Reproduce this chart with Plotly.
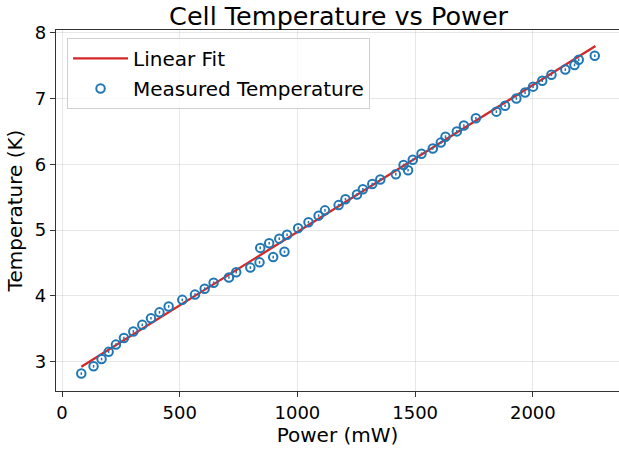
import plotly.graph_objects as go

power_mw = [82, 134, 168, 198, 229, 263, 303, 341, 378, 414, 453, 511, 565, 606, 644,
            709, 740, 800, 839, 842, 880, 897, 923, 945, 956, 1003, 1047, 1090, 1117,
            1175, 1204, 1253, 1278, 1318, 1352, 1418, 1451, 1470, 1490, 1527, 1575,
            1609, 1629, 1677, 1707, 1758, 1845, 1882, 1930, 1967, 2001, 2040, 2079,
            2138, 2177, 2195, 2263]
temp_k = [2.82, 2.93, 3.04, 3.15, 3.26, 3.36, 3.46, 3.56, 3.66, 3.75, 3.84, 3.94, 4.02,
          4.11, 4.20, 4.28, 4.36, 4.43, 4.51, 4.73, 4.80, 4.59, 4.87, 4.67, 4.93, 5.03,
          5.12, 5.22, 5.30, 5.38, 5.47, 5.54, 5.62, 5.70, 5.77, 5.85, 5.99, 5.91, 6.07,
          6.16, 6.24, 6.33, 6.42, 6.50, 6.59, 6.70, 6.80, 6.89, 7.00, 7.09, 7.18, 7.27,
          7.36, 7.44, 7.51, 7.59, 7.65]
temp_err = [0.02] * len(temp_k)

fit_power = [82, 2266]
fit_temp = [2.924, 7.798]

x_ticks = [0, 500, 1000, 1500, 2000]
y_ticks = [3, 4, 5, 6, 7, 8]

FONT = "DejaVu Sans"
BLUE = "#1f77b4"
RED = "#d62728"
SPINE = "#333333"

fig = go.Figure()
fig.add_trace(go.Scatter(
    x=fit_power, y=fit_temp, mode="lines", name="Linear Fit",
    line=dict(color=RED, width=2.3), legendgroup="a"))
fig.add_trace(go.Scatter(
    x=power_mw, y=temp_k, mode="markers", name="Measured Temperature",
    marker=dict(symbol="circle-open", size=8.5, color=BLUE, line=dict(width=2, color=BLUE)),
    error_y=dict(type="data", array=temp_err, color=BLUE, thickness=1.5, width=0),
    legendgroup="b"))

axis_common = dict(
    showgrid=True, gridcolor="rgba(176,176,176,0.3)", gridwidth=1,
    showline=True, linecolor=SPINE, linewidth=1.2,
    ticks="outside", ticklen=5, tickcolor=SPINE, tickwidth=1,
    tickfont=dict(family=FONT, size=18, color="black"),
    zeroline=False, automargin=False,
)

fig.update_layout(
    width=619, height=451,
    margin=dict(l=56, r=0, t=30, b=60),
    paper_bgcolor="white", plot_bgcolor="white",
    font=dict(family=FONT, color="black"),
    title=dict(text="Cell Temperature vs Power", x=0.547, xanchor="center",
               y=0.965, yanchor="middle", font=dict(family=FONT, size=25.5, color="black")),
    xaxis=dict(axis_common, range=[-25.5, 2366], tickvals=x_ticks, mirror=True,
               title=dict(text="Power (mW)", font=dict(family=FONT, size=20), standoff=2)),
    yaxis=dict(axis_common, range=[2.555, 8.041], tickvals=y_ticks, mirror=False,
               title=dict(text="Temperature (K)", font=dict(family=FONT, size=20), standoff=6)),
    legend=dict(x=0.0196, y=0.978, xanchor="left", yanchor="top",
                bgcolor="rgba(255,255,255,0.8)", bordercolor="#d0d0d0", borderwidth=1,
                font=dict(family=FONT, size=20), traceorder="grouped", tracegroupgap=1,
                itemwidth=55),
    showlegend=True,
)

fig.write_html("out.html", config={"displayModeBar": False},
               post_script="document.body.style.margin='0';")
